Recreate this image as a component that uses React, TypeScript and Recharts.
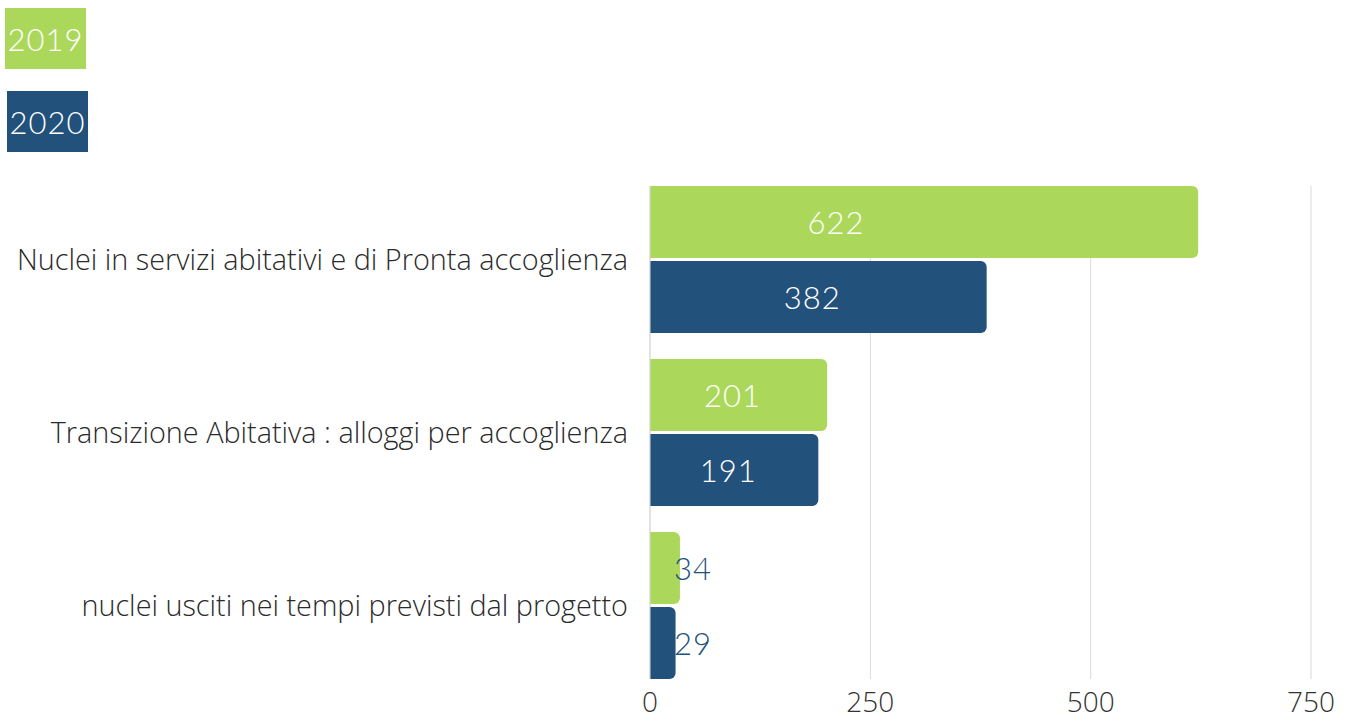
import { Bar, BarChart, CartesianGrid, LabelList, XAxis, YAxis } from "recharts";

const categories = [
  "Nuclei in servizi abitativi e di Pronta accoglienza",
  "Transizione Abitativa : alloggi per accoglienza",
  "nuclei usciti nei tempi previsti dal progetto",
];
const values2019 = [622, 201, 34];
const values2020 = [382, 191, 29];
const xTicks = [0, 250, 500, 750];

const GREEN = "#abd85b";
const BLUE = "#22517b";

const data = categories.map((name, i) => ({ name, y2019: values2019[i], y2020: values2020[i] }));

const numFont = "Lato, 'Open Sans', sans-serif";
const textFont = "'Open Sans', sans-serif";

const renderLabel = (props: any) => {
  const { x, y, width, height, value } = props;
  const big = width > 60;
  return (
    <text
      x={big ? x + Math.min(width / 2 - 6, 186) : x + 43}
      y={y + height / 2}
      textAnchor="middle"
      dominantBaseline="central"
      fill={big ? "#ffffff" : BLUE}
      fontSize={31}
      fontFamily={numFont}
      fontWeight={300}
      letterSpacing={1}
    >
      {value}
    </text>
  );
};

const legendBox = (bg: string, top: number, left: number, w: number, label: string) => (
  <div
    style={{
      position: "absolute",
      left,
      top,
      width: w,
      height: 61,
      background: bg,
      color: "#fff",
      fontFamily: numFont,
      fontWeight: 300,
      fontSize: 31,
      letterSpacing: 1,
      display: "flex",
      alignItems: "center",
      justifyContent: "center",
    }}
  >
    {label}
  </div>
);

export default function App() {
  return (
    <div style={{ position: "absolute", left: 0, top: 0, width: 1348, height: 723, background: "#fff" }}>
      {legendBox(GREEN, 8, 5, 81, "2019")}
      {legendBox(BLUE, 91, 7, 81, "2020")}
      <BarChart
        width={1348}
        height={723}
        layout="vertical"
        data={data}
        margin={{ top: 186, right: 37, left: 0, bottom: 0 }}
        barSize={72}
        barGap={3}
      >
        <CartesianGrid horizontal={false} stroke="#d9d9d9" />
        <XAxis
          type="number"
          domain={[0, 750]}
          ticks={xTicks}
          axisLine={false}
          tickLine={false}
          height={44}
          tick={{ fontSize: 28, fill: "#333", fontFamily: textFont, fontWeight: 300 }}
          tickMargin={7}
        />
        <YAxis
          type="category"
          dataKey="name"
          width={650}
          padding={{ top: -13, bottom: -13 }}
          axisLine={{ stroke: "#d9d9d9" }}
          tickLine={false}
          tickMargin={16}
          tick={{ fontSize: 28.8, fill: "#2a2a2a", fontFamily: textFont, fontWeight: 300 }}
        />
        <Bar dataKey="y2019" fill={GREEN} radius={[0, 6, 6, 0]} isAnimationActive={false}>
          <LabelList dataKey="y2019" content={renderLabel} />
        </Bar>
        <Bar dataKey="y2020" fill={BLUE} radius={[0, 6, 6, 0]} isAnimationActive={false}>
          <LabelList dataKey="y2020" content={renderLabel} />
        </Bar>
      </BarChart>
    </div>
  );
}
